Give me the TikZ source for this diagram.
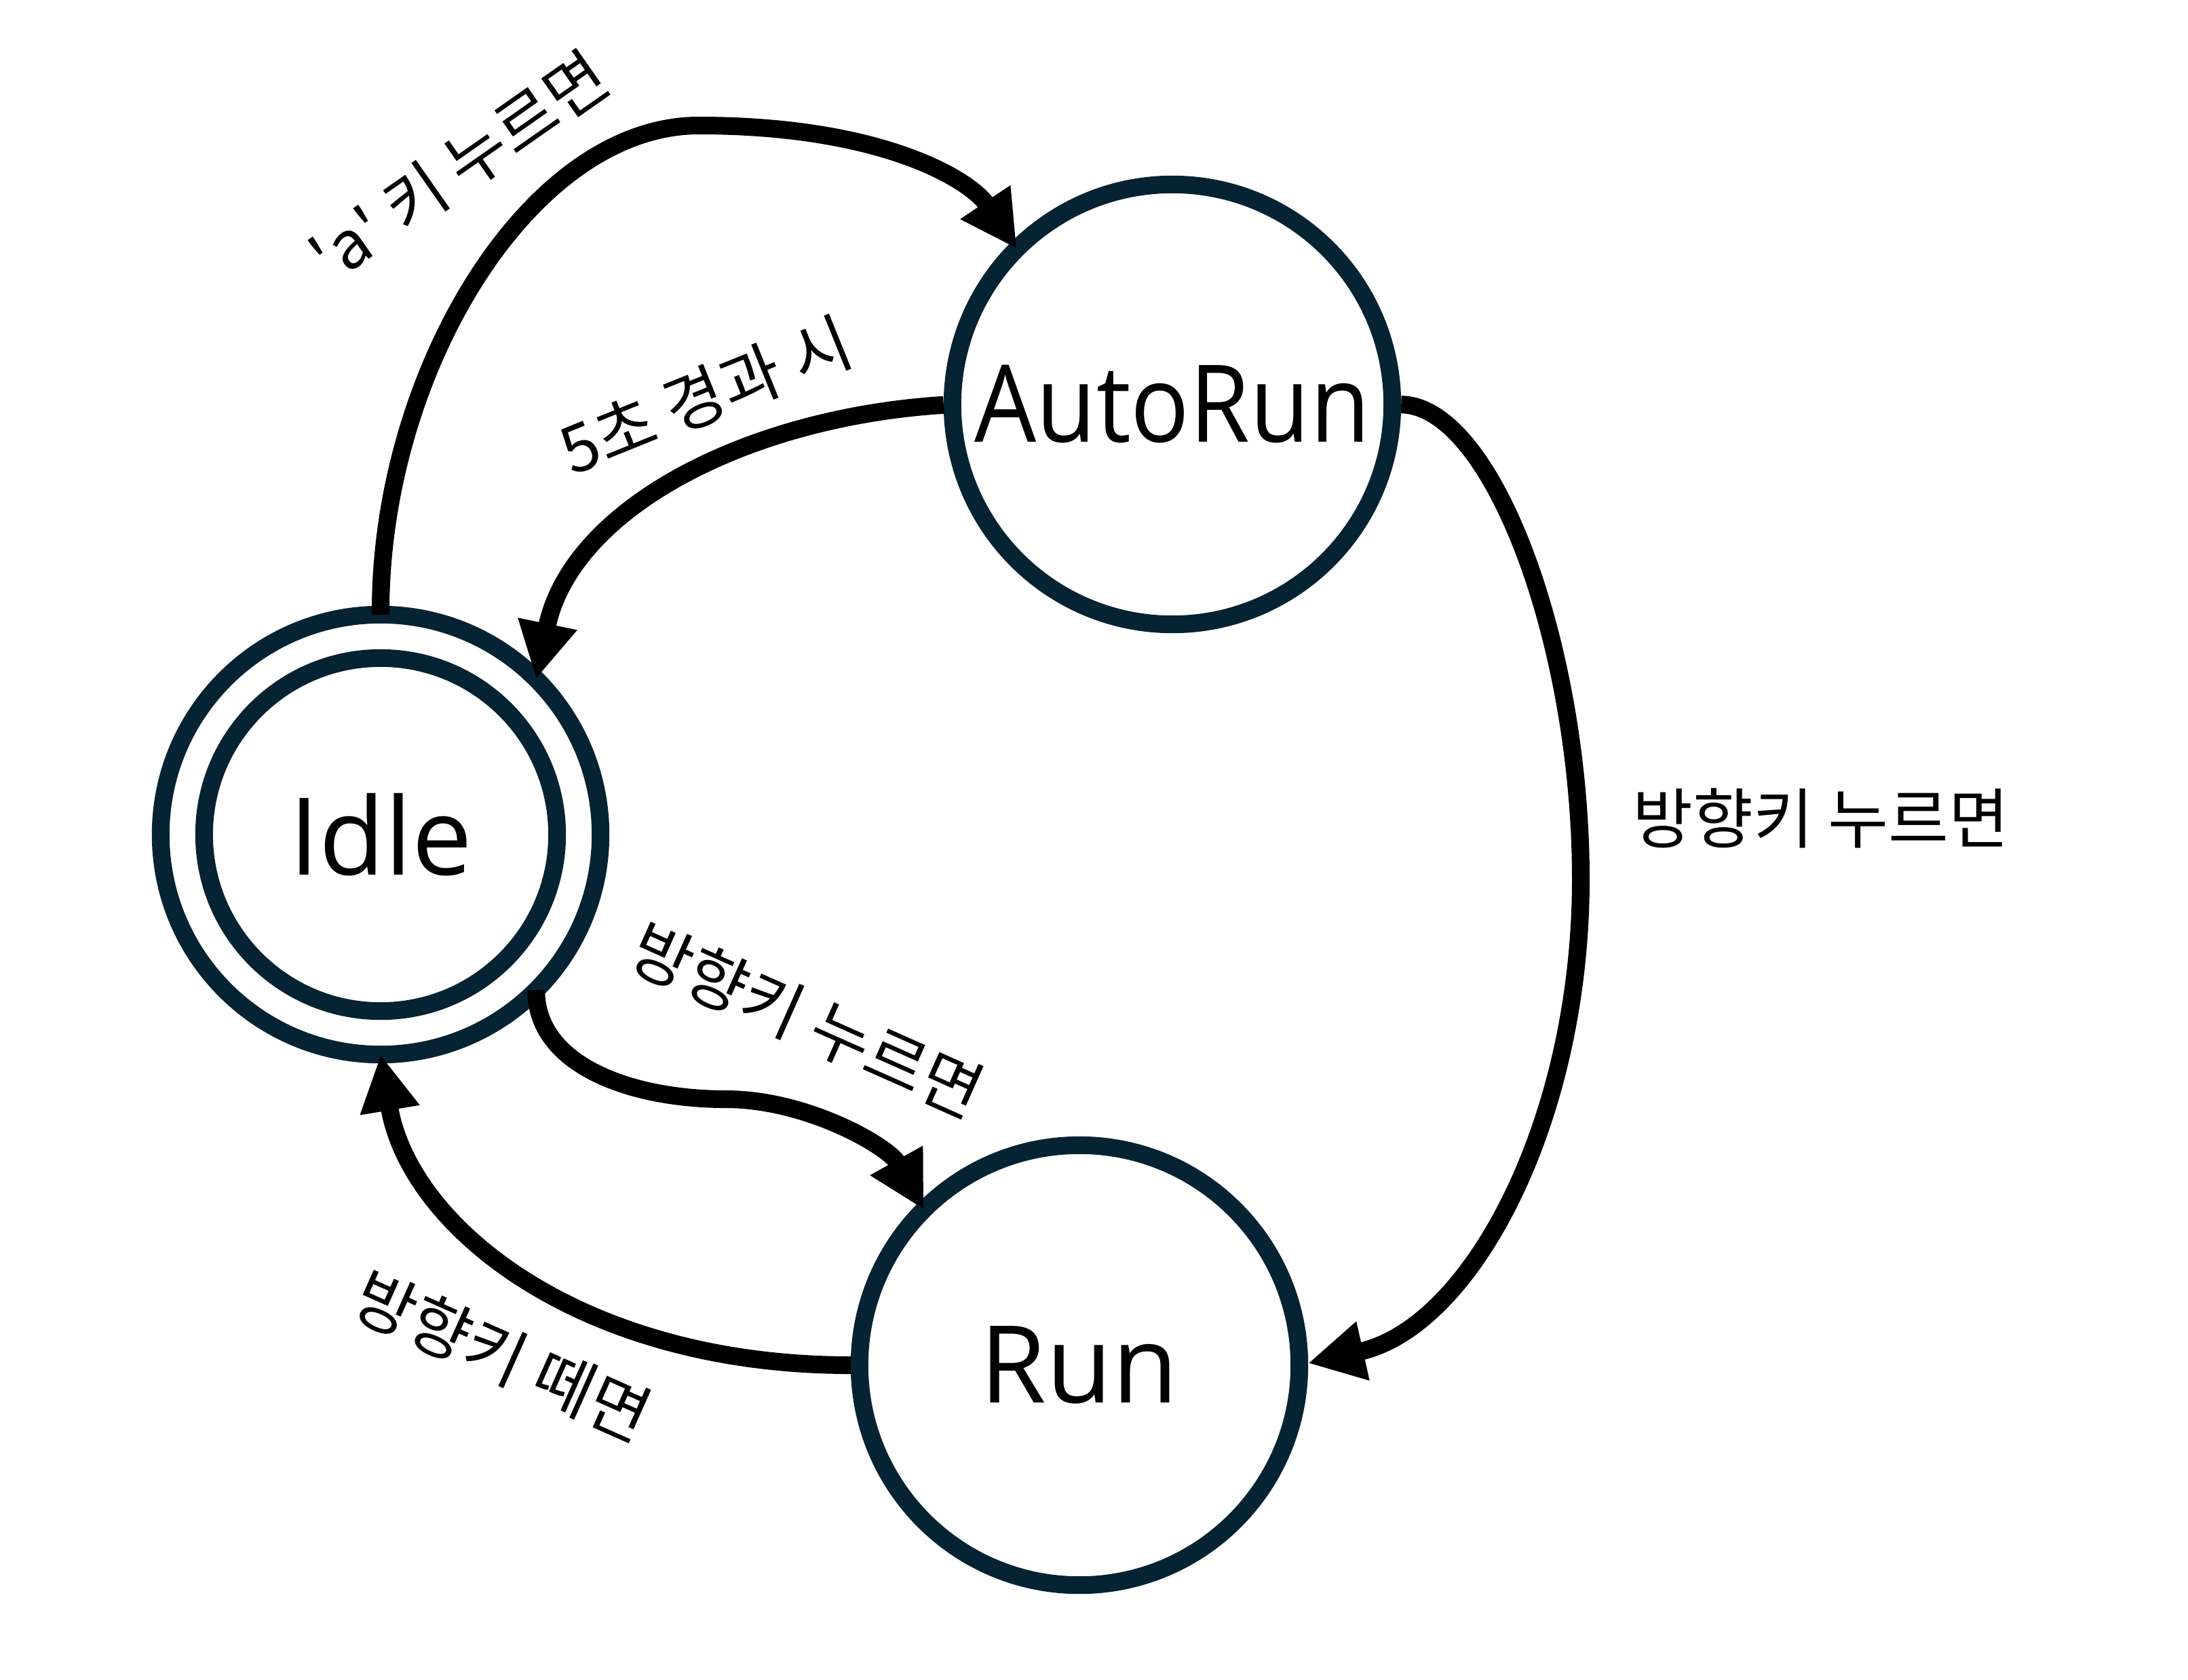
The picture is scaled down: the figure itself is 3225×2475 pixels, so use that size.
\documentclass[tikz,border=0pt]{standalone}
\usepackage{fontspec}
\setmainfont{Open Sans}
\newfontfamily\kr{Noto Sans CJK KR}[Ligatures=TeXOff]
\usetikzlibrary{arrows.meta}
\definecolor{navy}{RGB}{5,35,50}
\begin{document}
\begin{tikzpicture}[x=0.01cm,y=-0.01cm,
  state/.style={circle,draw=navy,line width=0.26cm,minimum size=6.48cm,inner sep=0pt,outer sep=0pt,font=\fontsize{45pt}{50pt}\selectfont},
  innerring/.style={circle,draw=navy,line width=0.26cm,minimum size=5.2cm,inner sep=0pt,outer sep=0pt,font=\fontsize{45pt}{50pt}\selectfont},
  trans/.style={line width=0.26cm,-{Triangle[length=0.83cm,width=0.83cm]}},
  lbl/.style={font=\kr\fontsize{27.5pt}{31pt}\selectfont,inner sep=0pt}]
\useasboundingbox (0,0) rectangle (3225,2475);
\fill[white] (0,0) rectangle (3225,2475);
% states
\node[state] (autorun) at (1728,596) {\raisebox{-0.1em}{\scalebox{0.91}[1]{AutoRun}}};
\node[state] (idle) at (561,1230) {};
\node[innerring] (idlein) at (561,1230) {Idle};
\node[state] (run) at (1591,2012) {Run};
% helper points
\coordinate (apeak) at (1030,185);
\coordinate (rpeak) at (2330,1296);
\coordinate (mpeak) at (1070,1620);
% transitions
\draw[trans] (idle.north) .. controls (559,550) and (780,185) .. (apeak)
  .. controls (1300,185) and (1430,265) .. (autorun.135);
\draw[trans,shorten <=0.13cm] (autorun.west) .. controls (1100,615) and (842,750) .. (idle.45);
\draw[trans,shorten <=0.13cm,shorten >=0.13cm] (autorun.east) .. controls (2200,598) and (2330,950) .. (rpeak)
  .. controls (2330,1650) and (2170,1955) .. (run.east);
\draw[trans] (idle.-45) .. controls (790,1570) and (930,1620) .. (mpeak)
  .. controls (1190,1620) and (1310,1690) .. (run.135);
\draw[trans,shorten <=0.13cm] (run.west) .. controls (854,2012) and (603,1807) .. (idle.south);
% labels
\node[lbl,rotate=35] (la) at (677,245) {'a' 키 누르면};
\node[lbl,rotate=22] (lb) at (1040,583) {5초 경과 시};
\node[lbl,rotate=-24] (lc) at (1190,1503) {방향키 누르면};
\node[lbl,rotate=-24] (ld) at (741,1998) {방향키 떼면};
\node[lbl] (le) at (2684,1206) {방향키 누르면};
\end{tikzpicture}
\end{document}
